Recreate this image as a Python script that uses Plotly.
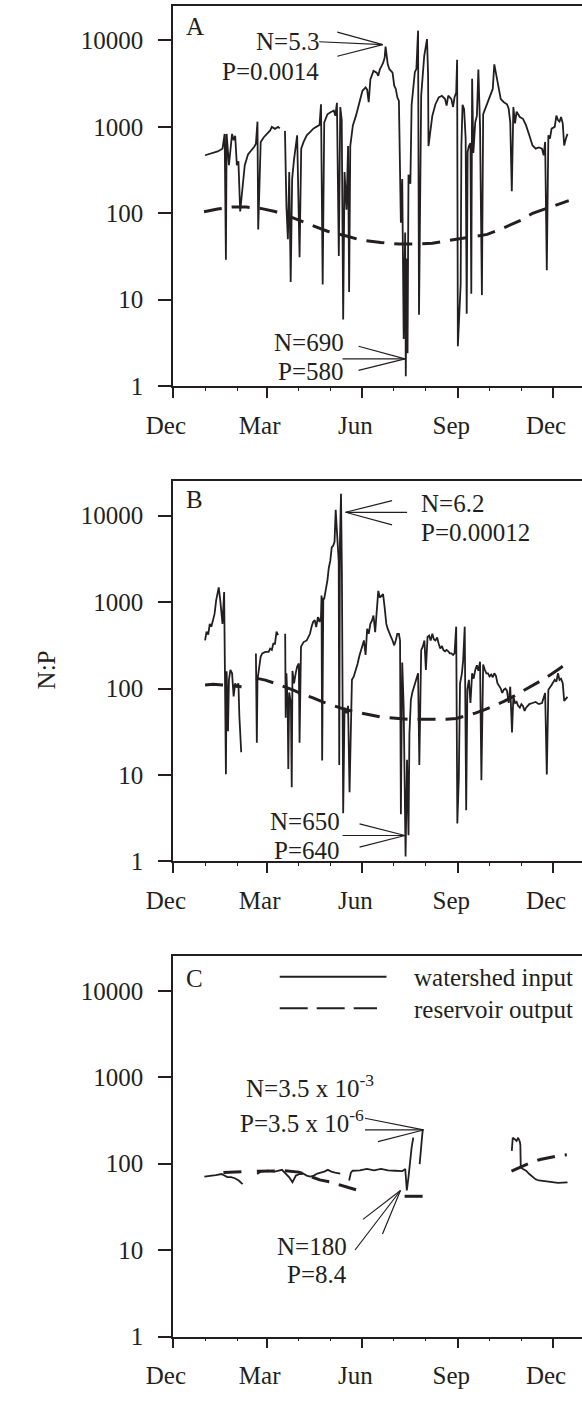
import math
import datetime as dt
import plotly.graph_objects as go

BASE = dt.datetime(2006, 12, 1)
INK = "#231f20"
FONT = "Liberation Serif, Times New Roman, serif"

# ---------------- Panel A (days since Dec 1, N:P ratio) ----------------
a_in_day = [30.9, 36.9, 43.0, 47.6, 49.7, 50.9, 51.6, 53.8, 56.8, 58.3,
            59.8, 61.4, 62.9, 64.6, 69.0, 72.1, 75.1, 78.1, 79.7, 81.2,
            81.9, 84.3, 87.3, 90.4, 93.4, 95.0, 98.0, 101.0, 102.6, None,
            107.6, 109.0, 110.4, 111.7, 113.1, 114.5, 116.3, 117.9, 119.3, 121.6,
            123.2, 125.5, 128.5, 131.6, 134.6, 137.6, 140.8, 142.2, 143.8, 145.3,
            148.4, 151.4, 154.5, 156.0, 157.5, 159.3, 160.7, 162.1, 163.5, 164.8,
            166.7, 168.2, 169.2, 170.3, 172.8, 175.8, 178.9, 180.4, 182.0, 185.0,
            186.5, 188.0, 189.6, 192.6, 195.7, 197.2, 198.7, 200.3, 201.8, 203.3,
            204.2, 206.3, 207.9, 210.9, 212.5, 214.0, 215.5, 217.0, 217.7, 218.9,
            220.2, 221.6, 223.0, 223.6, 224.4, 225.3, 226.2, 228.0, 229.2, 232.3,
            233.8, 235.4, 236.3, 238.4, 241.3, 244.0, 245.0, 245.4, 249.1, 252.1,
            255.2, 258.3, 261.3, 262.8, 264.4, 267.4, 269.0, 270.4, 272.0, 272.9,
            273.6, 276.3, 277.0, 278.1, 279.6, 281.1, 282.1, 283.0, 284.2, 285.7,
            286.5, 287.3, 288.5, 290.3, 291.9, 293.3, 294.9, 296.7, 297.9, 301.0,
            304.0, 307.1, 308.6, 311.6, 314.8, 317.8, 320.8, 322.4, 323.9, 325.4,
            326.9, 328.5, 330.0, 331.5, 333.1, 336.1, 339.1, 342.2, 345.3, 348.3,
            351.4, 354.4, 356.0, 357.4, 359.0, 360.5, 362.0, 363.6, 366.6, 368.2,
            369.7, 371.2, 372.7, 374.3, 375.7, 377.3, 378.9]
a_in_val = [470, 490, 520, 560, 830, 29, 830, 360, 830, 700,
            790, 360, 400, 105, 360, 480, 530, 590, 640, 1150,
            65, 670, 760, 830, 910, 1000, 950, 1000, 960, None,
            900, 120, 50, 300, 16, 250, 420, 560, 800, 31,
            560, 670, 800, 870, 950, 1000, 1050, 1830, 15, 1130,
            1400, 1480, 1550, 1350, 1900, 32, 1700, 1200, 5.9, 300,
            110, 600, 12.3, 600, 1040, 1350, 1830, 2100, 2620, 2860,
            2700, 1930, 3550, 4450, 4250, 3900, 4650, 5050, 5500, 6300,
            8500, 5300, 4650, 4250, 3000, 2750, 2200, 2000, 670, 78,
            250, 3.5, 60, 1.3, 30, 2.4, 280, 220, 1800, 4300,
            4700, 13000, 6.7, 2300, 6600, 10400, 4000, 600, 1350, 1830,
            2200, 2290, 2100, 1770, 2300, 2100, 1700, 2200, 2500, 6000,
            2.9, 15, 610, 1800, 1600, 730, 6.9, 515, 600, 650,
            11.7, 3600, 500, 1130, 1350, 4600, 1000, 11.3, 1400, 1770,
            2200, 2750, 5300, 3250, 2100, 1930, 1830, 1620, 1130, 180,
            1700, 1100, 1500, 1400, 1300, 1240, 1040, 800, 610, 560,
            580, 560, 470, 670, 22, 800, 730, 955, 1000, 1350,
            1200, 1150, 1300, 1100, 610, 730, 830]
a_out_day = [29.9, 43.0, 56.8, 70.5, 84.3, 98.0, 111.7, 121.6, 134.6, 148.4,
             165.8, 180.4, 199.6, 217.0, 233.5, 249.1, 267.4, 285.7, 301.8, 317.8,
             335.8, 345.3, 359.5, 370.9, 380.1]
a_out_val = [104, 112, 118, 118, 114, 105, 92, 83, 72, 62,
             55, 49, 46, 44, 44, 45, 49, 53, 57, 68,
             85, 100, 115, 128, 140]

# ---------------- Panel B ----------------
b_in_day = [30.9, 32.3, 33.9, 35.4, 36.9, 38.5, 40.0, 41.5, 43.0, 44.0,
            45.5, 47.0, 47.6, 49.2, 49.9, 50.9, 51.6, 52.9, 53.8, 55.2,
            56.8, 58.3, 59.8, 61.4, 62.9, 63.8, 65.6, None,
            79.7, 80.6, 81.2, 82.7, 84.3, 85.8, 88.8, 91.9, 93.4, 95.0,
            96.4, 98.0, 99.5, 101.0, None,
            107.8, 108.3, 109.0, 110.2, 110.8, 111.7, 113.3, 114.1, 114.8, 116.3,
            117.9, 119.3, 120.9, 121.6, 123.0, 125.5, 128.5, 131.6, 133.1, 134.6,
            136.2, 137.6, 139.2, 140.8, 142.2, 142.7, 143.3, 144.4, 145.3, 146.8,
            148.4, 149.7, 151.1, 152.5, 153.9, 155.2, 156.3, 157.3, 158.4, 159.2,
            159.7, 160.4, 161.4, 162.3, 163.5, 164.8, 166.7, 168.2, 169.6, 171.9,
            173.7, 175.8, 177.4, 178.9, 180.4, 182.0, 183.4, 185.0, 186.5, 188.0,
            189.6, 191.1, 192.6, 194.2, 195.7, 197.2, 198.7, 200.3, 201.8, 203.3,
            204.9, 206.3, 207.9, 209.4, 210.9, 212.5, 214.0, 215.5, 217.0, 218.1,
            218.9, 220.2, 221.6, 222.5, 223.4, 224.8, 226.2, 227.1, 228.5, 229.9,
            230.8, 232.3, 235.4, 236.6, 238.4, 239.9, 241.5, 242.9, 244.5, 246.0,
            247.5, 249.1, 250.6, 252.1, 253.7, 255.2, 256.7, 258.3, 259.8, 261.3,
            262.8, 264.4, 265.9, 267.4, 269.0, 270.4, 272.0, 273.1, 274.5, 275.7,
            277.5, 278.7, 280.2, 281.6, 282.7, 284.2, 285.7, 287.3, 288.8, 290.3,
            291.9, 293.3, 294.9, 296.2, 297.9, 299.5, 301.0, 302.5, 304.0, 305.6,
            307.1, 308.6, 310.2, 311.6, 314.8, 316.2, 317.8, 319.3, 320.8, 322.4,
            323.9, 325.6, 326.9, 328.5, 330.0, 331.5, 333.1, 334.6, 336.1, 337.7,
            339.1, 340.7, 342.2, 345.3, 348.3, 351.4, 354.4, 357.4, 359.0, 360.5,
            362.0, 363.6, 366.6, 368.2, 369.7, 371.2, 372.7, 374.3, 375.7, 377.3,
            378.9]
b_in_val = [360, 455, 420, 560, 520, 610, 730, 1040, 1350, 1480,
            1040, 610, 560, 1310, 200, 10.2, 158, 32, 126, 164,
            150, 81, 115, 105, 115, 48, 18.3, None,
            255, 23.6, 126, 180, 235, 255, 265, 265, 290, 280,
            330, 330, 455, 415, None,
            430, 46, 150, 63, 11.7, 90, 68, 7.2, 160, 115,
            150, 180, 195, 23.6, 305, 345, 360, 430, 515, 590,
            620, 515, 670, 590, 680, 1190, 14.7, 1100, 1100, 1350,
            1800, 2500, 3000, 4300, 4500, 5000, 11700, 7200, 4800, 3000,
            13, 5000, 18000, 2000, 3.6, 60, 52, 63, 6.3, 126,
            138, 164, 195, 235, 278, 316, 360, 245, 490, 430,
            560, 610, 700, 450, 800, 1350, 1130, 1200, 1240, 870,
            560, 490, 430, 395, 360, 316, 360, 430, 430, 360,
            3.5, 200, 60, 6, 1.14, 15, 2.0, 30, 74, 90,
            97, 115, 150, 13, 278, 305, 360, 164, 395, 410,
            360, 430, 370, 360, 390, 330, 290, 310, 278, 270,
            280, 270, 255, 255, 245, 255, 520, 2.75, 9, 115,
            150, 213, 520, 3.9, 97, 126, 68, 150, 130, 164,
            186, 160, 204, 8.7, 190, 165, 150, 150, 138, 145,
            135, 150, 140, 115, 100, 89, 97, 100, 94, 68,
            105, 31, 81, 68, 70, 63, 60, 66, 63, 55,
            60, 63, 66, 68, 70, 66, 68, 89, 10.1, 97,
            105, 110, 126, 120, 150, 126, 130, 115, 72, 76,
            80]
b_out_day = [30.9, 38.5, 47.6, 56.8, 65.9, None,
             79.7, 88.8, 98.0, 107.1, 116.3, 125.5, 134.6, 143.8, 152.9, 162.1,
             171.3, 180.4, 189.6, 198.7, 207.9, 217.0, 226.2, 244.5, 262.8, 272.0,
             281.2, 290.3, 299.5, 308.6, 317.8, 326.9, 336.1, 345.3, 354.4, 363.6,
             372.7, 379.1]
b_out_val = [110, 112, 110, 108, 105, None,
             132, 125, 115, 105, 95, 85, 78, 70, 64, 59,
             55, 52, 49, 47, 46, 45, 44, 44, 44, 45,
             48, 52, 57, 63, 71, 81, 93, 108, 125, 147,
             175, 204]

# ---------------- Panel C ----------------
c_in_day = [30.2, 35.7, 41.2, 46.7, 49.5, 52.2, 55.9, 59.5, 63.2, 66.9, None,
            80.9, 84.3, 91.0, 97.8, 104.7, 108.1, 111.5, 114.8, 118.1, 121.6,
            125.0, 128.4, 131.9, 135.3, 138.7, 141.9, 145.4, 148.8, 152.2, 155.7,
            160.7, None,
            169.2, 170.9, 172.6, 179.5, 186.2, 193.1, 199.8, 206.6, 213.4, 220.2,
            223.1, 224.6, 226.2, 227.7, 229.2, 230.8, None,
            236.9, 239.9, None,
            325.4, 326.3, 328.5, 330.0, 331.5, 333.1, 333.6, 334.0, 336.1, 339.1,
            342.2, 345.3, 348.3, 351.4, 356.0, 360.5, 369.7, 378.9]
c_in_val = [71, 72, 74, 76, 72, 70, 70, 68, 64, 58, None,
            76, 81, 83, 81, 85, 77, 70, 61, 73, 76,
            77, 73, 71, 73, 77, 79, 81, 85, 81, 79,
            77, None,
            64, 79, 83, 84, 87, 84, 87, 84, 83, 82,
            87, 49, 70, 108, 154, 201, None,
            99, 250, None,
            141, 200, 191, 183, 200, 180, 165, 91, 87, 83,
            76, 70, 66, 64, 63, 61, 60, 61]
c_out_day = [48.5, 66.9, None,
             80.6, 93.4, 107.1, 120.9, 131.9, 141.0, 150.2, 159.3, 168.5, 181.3, None,
             222.5, 244.5, None,
             325.1, 334.3, 342.5, 352.6, 361.7, 370.9, 378.2]
c_out_val = [79, 81, None,
             82, 83, 83, 80, 72, 65, 62, 57, 53, 48, None,
             42, 42, None,
             82, 92, 102, 112, 118, 124, 127]

y_tick_vals = [1, 10, 100, 1000, 10000]
y_tick_text = ["1", "10", "100", "1000", "10000"]
panel_letters = ["A", "B", "C"]
legend_labels = ["watershed input", "reservoir output"]
y_title = "N:P"


def to_dates(days):
    return [None if d is None else BASE + dt.timedelta(days=d) for d in days]


def dstr(day):
    return (BASE + dt.timedelta(days=day)).strftime("%Y-%m-%d %H:%M")


fig = go.Figure()
panels = [(a_in_day, a_in_val, a_out_day, a_out_val),
          (b_in_day, b_in_val, b_out_day, b_out_val),
          (c_in_day, c_in_val, c_out_day, c_out_val)]

y_domains = [[0.72242, 0.99573], [0.38078, 0.65409], [0.03915, 0.31246]]
tickfont = dict(family=FONT, size=25, color=INK)

for i, (sd, sv, od, ov) in enumerate(panels, start=1):
    xa = "x" if i == 1 else f"x{i}"
    ya = "y" if i == 1 else f"y{i}"
    fig.add_trace(go.Scatter(x=to_dates(od), y=ov, mode="lines", connectgaps=False,
                             line=dict(color=INK, width=3, dash="18px,10px"),
                             xaxis=xa, yaxis=ya, showlegend=False, hoverinfo="skip"))
    fig.add_trace(go.Scatter(x=to_dates(sd), y=sv, mode="lines", connectgaps=False,
                             line=dict(color=INK, width=1.8),
                             xaxis=xa, yaxis=ya, showlegend=False, hoverinfo="skip"))
    xkey = "xaxis" if i == 1 else f"xaxis{i}"
    ykey = "yaxis" if i == 1 else f"yaxis{i}"
    fig.layout[xkey] = dict(
        type="date", domain=[153 / 582, 1.0], anchor=ya,
        range=[BASE, BASE + dt.timedelta(days=392.8)],
        tick0=BASE, dtick="M3", tickformat="%b",
        ticks="outside", ticklen=10, tickwidth=1.5, tickcolor=INK,
        showline=True, linecolor=INK, linewidth=1.5, mirror=True,
        showgrid=False, zeroline=False, tickfont=tickfont,
        ticklabelshift=-7, ticklabelstandoff=6,
        minor=dict(dtick="M1", tick0=BASE, ticks="outside", ticklen=3,
                   tickwidth=1, tickcolor=INK, showgrid=False),
    )
    fig.layout[ykey] = dict(
        type="log", domain=y_domains[i - 1], anchor=xa, range=[0, 4.4],
        tickvals=y_tick_vals, ticktext=y_tick_text,
        ticks="outside", ticklen=13, tickwidth=1.5, tickcolor=INK,
        showline=True, linecolor=INK, linewidth=1.5, mirror=False,
        showgrid=False, zeroline=False, tickfont=tickfont,
        ticklabelstandoff=10,
    )

annotations = []
shapes = []


def text(xref, yref, day, val, s, anchor):
    annotations.append(dict(x=dstr(day), y=math.log10(val), xref=xref, yref=yref,
                            text=s, showarrow=False, xanchor=anchor, yanchor="middle",
                            font=dict(family=FONT, size=25, color=INK)))


def seg(xref, yref, day, val, ax, ay):
    # thin pointer line ending at a data point, tail offset given in pixels
    annotations.append(dict(x=dstr(day), y=math.log10(val), xref=xref, yref=yref,
                            text="", showarrow=True, arrowhead=0, arrowwidth=1.2,
                            arrowcolor=INK, ax=ax, ay=ay, standoff=0, startstandoff=0))


# Panel A notes
text("x", "y", 141.9, 9770, "N=5.3", "right")
text("x", "y", 141.9, 4430, "P=0.0014", "right")
for ax, ay in [(-65, -3), (-47, -13), (-47, 12)]:
    seg("x", "y", 201.5, 8950, ax, ay)
text("x", "y", 165.8, 3.19, "N=690", "right")
text("x", "y", 165.8, 1.49, "P=580", "right")
for ax, ay in [(-64, 0), (-48, -13), (-48, 12)]:
    seg("x", "y", 222.9, 2.07, ax, ay)

# Panel B notes
text("x2", "y2", 236.3, 13900, "N=6.2", "left")
text("x2", "y2", 236.3, 6470, "P=0.00012", "left")
for ax, ay in [(63, 0), (48, -12), (48, 13)]:
    seg("x2", "y2", 165.8, 10960, ax, ay)
text("x2", "y2", 162.1, 2.87, "N=650", "right")
text("x2", "y2", 162.1, 1.34, "P=640", "right")
for ax, ay in [(-64, 0), (-47, -12), (-47, 12)]:
    seg("x2", "y2", 222.9, 1.99, ax, ay)

# Panel C notes
text("x3", "y3", 195.1, 792, "N=3.5 x 10<sup>-3</sup>", "right")
text("x3", "y3", 185.0, 314, "P=3.5 x 10<sup>-6</sup>", "right")
for ax, ay in [(-60, 0), (-60, -12), (-47, 12)]:
    seg("x3", "y3", 240.6, 246, ax, ay)
text("x3", "y3", 169.4, 10.9, "N=180", "right")
text("x3", "y3", 169.4, 5.2, "P=8.4", "right")
for ax, ay in [(-46.6, 61), (-39, 30), (-18.6, 45)]:
    seg("x3", "y3", 218.5, 49, ax, ay)

# panel letters
for i, (letter, ypos) in enumerate(zip(panel_letters, [0.945, 0.953, 0.943]), start=1):
    xr = "x domain" if i == 1 else f"x{i} domain"
    yr = "y domain" if i == 1 else f"y{i} domain"
    annotations.append(dict(x=0.028, y=ypos, xref=xr, yref=yr, text=letter,
                            showarrow=False, xanchor="left", yanchor="middle",
                            font=dict(family=FONT, size=25, color=INK)))

# y title
annotations.append(dict(x=20 / 582, y=0.5181, xref="paper", yref="paper", text=y_title,
                        textangle=-90, showarrow=False, xanchor="center", yanchor="middle",
                        font=dict(family=FONT, size=25, color=INK)))

# legend (panel C)
annotations.append(dict(x=404 / 582, y=1 - 987 / 1405, xref="paper", yref="paper",
                        text=legend_labels[0], showarrow=False, xanchor="left", yanchor="middle",
                        font=dict(family=FONT, size=25, color=INK)))
annotations.append(dict(x=404 / 582, y=1 - 1020 / 1405, xref="paper", yref="paper",
                        text=legend_labels[1], showarrow=False, xanchor="left", yanchor="middle",
                        font=dict(family=FONT, size=25, color=INK)))
shapes.append(dict(type="line", xref="paper", yref="paper", x0=265 / 582, x1=377 / 582,
                   y0=1 - 986.7 / 1405, y1=1 - 986.7 / 1405, line=dict(color=INK, width=2)))
shapes.append(dict(type="line", xref="paper", yref="paper", x0=265 / 582, x1=367 / 582,
                   y0=1 - 1018.3 / 1405, y1=1 - 1018.3 / 1405,
                   line=dict(color=INK, width=2, dash="28px,9px")))

fig.update_layout(
    width=582, height=1405,
    margin=dict(l=0, r=0, t=0, b=0),
    paper_bgcolor="white", plot_bgcolor="white",
    showlegend=False,
    annotations=annotations, shapes=shapes,
    font=dict(family=FONT, size=25, color=INK),
)

fig.write_html("out.html")
